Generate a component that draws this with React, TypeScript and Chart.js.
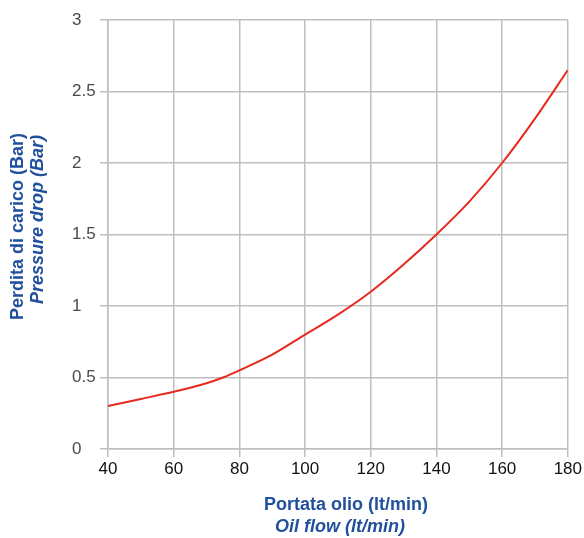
import React, { useEffect, useRef } from "react";
import { Chart, registerables } from "chart.js";

Chart.register(...registerables);

const flow = [40, 50, 60, 70, 75, 80, 90, 100, 110, 120, 130, 140, 150, 160, 170, 180];
const pressure = [0.3, 0.35, 0.4, 0.46, 0.5, 0.55, 0.66, 0.8, 0.94, 1.1, 1.29, 1.5, 1.73, 2.0, 2.31, 2.65];
const xTitle = ["Portata olio (lt/min)", "Oil flow (lt/min)"];
const yTitle = ["Perdita di carico (Bar)", "Pressure drop (Bar)"];

const TITLE_COLOR = "#21509c";
const GRID = "#bfbfbf";
const FONT = "'Liberation Sans', Arial, sans-serif";

const titlePlugin = {
  id: "dualTitles",
  afterDraw(chart: any) {
    const ctx = chart.ctx;
    ctx.save();
    ctx.fillStyle = TITLE_COLOR;
    ctx.textBaseline = "middle";
    // x title
    ctx.textAlign = "center";
    ctx.font = "bold 18px " + FONT;
    ctx.fillText(xTitle[0], 346, 505);
    ctx.font = "italic bold 18px " + FONT;
    ctx.fillText(xTitle[1], 340, 527);
    // y title
    ctx.save();
    ctx.translate(18, 133);
    ctx.rotate(-Math.PI / 2);
    ctx.textAlign = "right";
    ctx.font = "bold 18px " + FONT;
    ctx.fillText(yTitle[0], 0, 0);
    ctx.restore();
    ctx.save();
    ctx.translate(38, 135);
    ctx.rotate(-Math.PI / 2);
    ctx.textAlign = "right";
    ctx.font = "italic bold 18px " + FONT;
    ctx.fillText(yTitle[1], 0, 0);
    ctx.restore();
    ctx.restore();
  },
};

export default function App() {
  const ref = useRef<HTMLCanvasElement | null>(null);
  useEffect(() => {
    if (!ref.current) return;
    const chart = new Chart(ref.current, {
      type: "line",
      data: {
        datasets: [
          {
            data: flow.map((f, i) => ({ x: f, y: pressure[i] })),
            borderColor: "#e8291f",
            borderWidth: 2,
            pointRadius: 0,
            cubicInterpolationMode: "monotone",
            fill: false,
          },
        ],
      },
      options: {
        animation: false,
        responsive: true,
        maintainAspectRatio: false,
        layout: { padding: { left: 72, top: 20, right: 15, bottom: 0 } },
        plugins: { legend: { display: false }, tooltip: { enabled: false } },
        scales: {
          x: {
            type: "linear",
            min: 40,
            max: 180,
            afterFit: (s: any) => {
              s.height = 89;
            },
            ticks: {
              stepSize: 20,
              color: "#111",
              padding: 2,
              font: { size: 17, family: FONT },
              callback: (v: any) => String(v),
            },
            grid: { color: GRID, lineWidth: 1.5, tickLength: 8 },
            border: { color: GRID, width: 1.5 },
          },
          y: {
            min: 0,
            max: 3,
            afterFit: (s: any) => {
              s.width = 36;
            },
            ticks: {
              stepSize: 0.5,
              color: "#4a4a4a",
              crossAlign: "far",
              font: { size: 17, family: FONT },
              callback: (v: any) => String(v),
            },
            grid: { color: GRID, lineWidth: 1.5, tickLength: 8 },
            border: { color: GRID, width: 1.5 },
          },
        },
      },
      plugins: [titlePlugin],
    } as any);
    return () => chart.destroy();
  }, []);
  return (
    <div style={{ position: "fixed", left: 0, top: 0, width: 584, height: 538, background: "#fff" }}>
      <canvas ref={ref} />
    </div>
  );
}
